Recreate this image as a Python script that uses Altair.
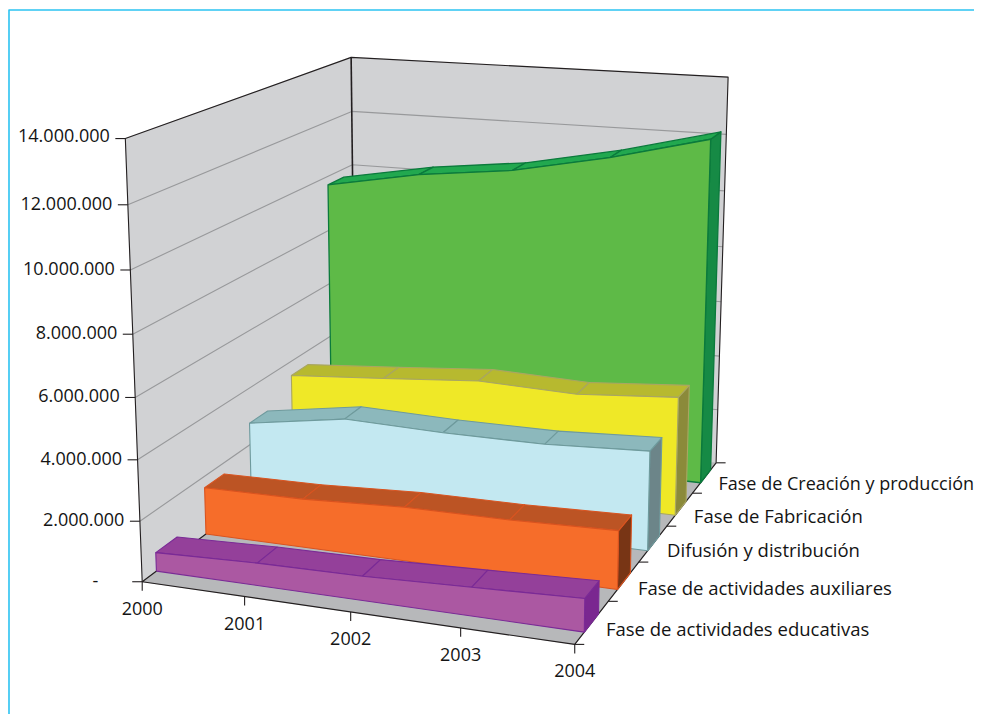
import numpy as np
import pandas as pd
import altair as alt

YEARS = ["2000", "2001", "2002", "2003", "2004"]
VALUE_LABELS = ["-", "2.000.000", "4.000.000", "6.000.000", "8.000.000", "10.000.000", "12.000.000", "14.000.000"]
SERIES = ["Fase de actividades educativas", "Fase de actividades auxiliares", "Difusión y distribución",
          "Fase de Fabricación", "Fase de Creación y producción"]
educativas = [0.62e6, 0.74e6, 0.79e6, 0.92e6, 1.06e6]
auxiliares = [1.61e6, 1.65e6, 1.81e6, 1.83e6, 1.93e6]
difusion = [2.77e6, 3.30e6, 3.21e6, 3.21e6, 3.38e6]
fabricacion = [3.48e6, 3.73e6, 4.00e6, 3.89e6, 4.15e6]
creacion = [9.69e6, 10.30e6, 10.69e6, 11.37e6, 12.23e6]
ALL_VALUES = [educativas, auxiliares, difusion, fabricacion, creacion]
YMAX = 14e6

# colours per series: front, top, side, stroke
COLOURS = [
    ("#ab58a2", "#94409a", "#7a2790", "#7a2a96"),
    ("#f66d2a", "#bc5424", "#783515", "#d9531f"),
    ("#c3e8f1", "#8cb8bc", "#6c8589", "#6e9a9d"),
    ("#efe827", "#b7b92f", "#8b8a3a", "#a9a662"),
    ("#5eba47", "#22a84f", "#168a45", "#0b7a3c"),
]
WALL = "#d1d2d4"
FLOOR = "#b7b8ba"
GRID = "#98999b"
INK = "#231f20"
BORDER = "#2cc3f2"
FONT = "Open Sans"

# perspective camera of the 3-D box: (u=time, v=value, w=depth)
CAMERA = [(0,0,0,143.3,582),(0,1,0,125.7,139),(0,1,1,351.7,57.3),(1,1,1,728.7,77.3),(1,0,1,715,463),(1,0,0,574.3,644),
          (1,0,0,574.3,644),(1,0,0,574.3,644),
          (.25,0,0,245.7,598),(.5,0,0,350.7,613),(.75,0,0,460.7,628),
          (0,6/7,0,128,205),(0,5/7,0,130.5,271),(0,4/7,0,132,333),(0,3/7,0,134.5,397),(0,2/7,0,136.5,459),(0,1/7,0,140,520),
          (0,6/7,1,351.7,111.7),(0,5/7,1,351.8,164.7),(1,6/7,1,726,134),
          (1,0,.8,693,493),(1,0,.6,667,526),(1,0,.4,640,562),(1,0,.2,608,602)]
rows = []
for u, v, w, sx, sy in CAMERA:
    rows.append([u, v, w, 1, 0, 0, 0, 0, -sx*u, -sx*v, -sx*w, -sx])
    rows.append([0, 0, 0, 0, u, v, w, 1, -sy*u, -sy*v, -sy*w, -sy])
H = np.linalg.svd(np.array(rows, float))[2][-1].reshape(3, 4)
H = H / H[2, 3]


def P(u, v, w):
    p = H @ np.array([u, v, w, 1.0])
    return float(p[0] / p[2]), float(p[1] / p[2])


SX = alt.Scale(domain=[8, 974], range=[0, 966], zero=False, nice=False)
SY = alt.Scale(domain=[8, 714], range=[0, 706], zero=False, nice=False)
layers = []


def line_layer(points, stroke=None, width=1.0, fill=None):
    df = pd.DataFrame({"i": range(len(points)), "x": [p[0] for p in points], "y": [p[1] for p in points]})
    kw = {}
    if fill is not None:
        kw["fill"] = fill
        kw["filled"] = True
    kw["stroke"] = stroke if stroke is not None else (fill if fill else INK)
    kw["strokeWidth"] = width if stroke is not None else 0.5
    layers.append(alt.Chart(df).mark_line(strokeJoin="round", **kw).encode(
        x=alt.X("x:Q", scale=SX, axis=None),
        y=alt.Y("y:Q", scale=SY, axis=None),
        order=alt.Order("i:Q"),
    ))


def poly(points, fill, stroke=None, width=1.0):
    line_layer(list(points) + [points[0]], stroke, width, fill)


def labels(texts, points, align, size):
    df = pd.DataFrame({"t": texts, "x": [p[0] for p in points], "y": [p[1] for p in points]})
    layers.append(alt.Chart(df).mark_text(align=align, baseline="middle", font=FONT, fontSize=size, color="#141414").encode(
        x=alt.X("x:Q", scale=SX, axis=None),
        y=alt.Y("y:Q", scale=SY, axis=None),
        text="t:N",
    ))


# frame
line_layer([(9, 714), (9, 10), (974, 10)], BORDER, 1.6)

# walls and floor
poly([P(0,0,0), P(0,1,0), P(0,1,1), P(0,0,1)], WALL)
poly([P(0,0,1), P(0,1,1), P(1,1,1), P(1,0,1)], WALL)
poly([P(0,0,0), P(1,0,0), P(1,0,1), P(0,0,1)], FLOOR)
for k in range(1, 7):
    line_layer([P(0,k/7,0), P(0,k/7,1), P(1,k/7,1)], GRID, 1.1)
line_layer([P(0,0,1), P(0,1,1)], INK, 1.6)
line_layer([P(0,0,0), P(0,1,0), P(0,1,1), P(1,1,1), P(1,0,1)], INK, 1.1)
line_layer([P(1,0,1), P(1,0,0), P(0,0,0), P(0,0,1)], INK, 1.2)

# ticks
for k in range(8):
    a = P(0, k/7, 0)
    line_layer([a, (a[0]-10, a[1])], INK, 1.1)
for i in range(5):
    a = P(i/4, 0, 0)
    line_layer([a, (a[0], a[1]+9)], INK, 1.1)
for k in range(6):
    a = P(1, 0, k/5)
    line_layer([a, (a[0]+9.5, a[1])], INK, 1.1)

# series, back to front
W_FRONT = 0.055
W_BACK = 0.14
for s in range(4, -1, -1):
    vals = ALL_VALUES[s]
    front, top, side, stroke = COLOURS[s]
    wf, wb = s*0.203 + W_FRONT, s*0.203 + W_BACK
    us = [i/4 for i in range(5)]
    vs = [val/YMAX for val in vals]
    sw = 1.3 if s == 4 else 1.1
    poly([P(1,0,wf), P(1,vs[-1],wf), P(1,vs[-1],wb), P(1,0,wb)], side, stroke, sw)
    for i in range(4):
        poly([P(us[i],vs[i],wf), P(us[i+1],vs[i+1],wf), P(us[i+1],vs[i+1],wb), P(us[i],vs[i],wb)], top, stroke, sw)
    poly([P(0,0,wf)] + [P(u,v,wf) for u, v in zip(us, vs)] + [P(1,0,wf)], front, stroke, sw)

# labels
vl_pts = []
for k in range(8):
    a = P(0, k/7, 0)
    vl_pts.append((a[0] - (44 if k == 0 else 15.5), a[1] - (2 if k == 7 else 0)))
labels(VALUE_LABELS, vl_pts, "right", 18)
yl_pts = [(P(i/4,0,0)[0], P(i/4,0,0)[1] + 28) for i in range(5)]
labels(YEARS, yl_pts, "center", 18)
sl_pts = []
for s in range(5):
    a = P(1, 0, (s+0.5)*0.2)
    sl_pts.append((a[0] + 14, a[1] + 7.3))
labels(SERIES[:4], sl_pts[:4], "left", 18.5)
labels(SERIES[4:], sl_pts[4:], "left", 18)

chart = alt.layer(*layers).properties(
    width=966, height=706, padding=0, autosize=alt.AutoSizeParams(type="none")
).configure_view(stroke=None)
chart.save("out.html", embed_options={"renderer": "svg", "actions": False})
